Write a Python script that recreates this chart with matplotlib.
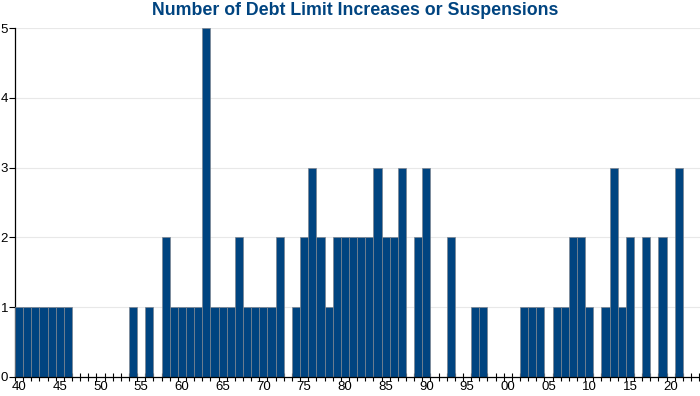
import numpy as np
import matplotlib
matplotlib.use("Agg")
import matplotlib.pyplot as plt
from matplotlib.ticker import MultipleLocator, FixedLocator, FuncFormatter

plt.rcParams['font.family'] = ['Liberation Sans', 'DejaVu Sans']

years = np.arange(1940, 2022)
counts = [1, 1, 1, 1, 1, 1, 1, 0, 0, 0,   # 1940-49
          0, 0, 0, 0, 1, 0, 1, 0, 2, 1,   # 1950-59
          1, 1, 1, 5, 1, 1, 1, 2, 1, 1,   # 1960-69
          1, 1, 2, 0, 1, 2, 3, 2, 1, 2,   # 1970-79
          2, 2, 2, 2, 3, 2, 2, 3, 0, 2,   # 1980-89
          3, 0, 0, 2, 0, 0, 1, 1, 0, 0,   # 1990-99
          0, 0, 1, 1, 1, 0, 1, 1, 2, 2,   # 2000-09
          1, 0, 1, 3, 1, 2, 0, 2, 0, 2,   # 2010-19
          0, 3]                            # 2020-21
label_years = np.arange(1940, 2021, 5)

blue = "#004480"

fig = plt.figure(figsize=(7, 3.96), dpi=100)
ax = fig.add_axes([0.0214, 0.048, 0.9786, 0.881])

ax.bar(years, counts, width=1.0, color=blue, edgecolor="#7d8590", linewidth=0.5, zorder=3)

ax.set_xlim(1939.5, 2023.6)
ax.set_ylim(0, 5)

ax.yaxis.set_major_locator(MultipleLocator(1))
ax.grid(axis='y', color="#e8e8e8", linewidth=0.8, zorder=0)
ax.tick_params(axis='y', direction='out', length=4, width=0.8, labelsize=9.5, pad=1)

ax.xaxis.set_major_locator(FixedLocator(label_years))
ax.xaxis.set_major_formatter(FuncFormatter(lambda v, p: "%02d" % (int(round(v)) % 100)))
ax.xaxis.set_minor_locator(FixedLocator(np.arange(1939.5, 2023.6, 1.0)))
ax.tick_params(axis='x', which='major', length=0, labelsize=9.5, pad=3)
ax.tick_params(axis='x', which='minor', direction='inout', length=6, width=0.8)

for s in ['top', 'right']:
    ax.spines[s].set_visible(False)
ax.spines['left'].set_linewidth(0.9)
ax.spines['bottom'].set_linewidth(0.9)
ax.spines['bottom'].set_zorder(4)

fig.suptitle("Number of Debt Limit Increases or Suspensions", x=0.508, y=0.995,
             fontsize=12.8, fontweight='bold', color=blue)

fig.savefig("out.png", dpi=100)
